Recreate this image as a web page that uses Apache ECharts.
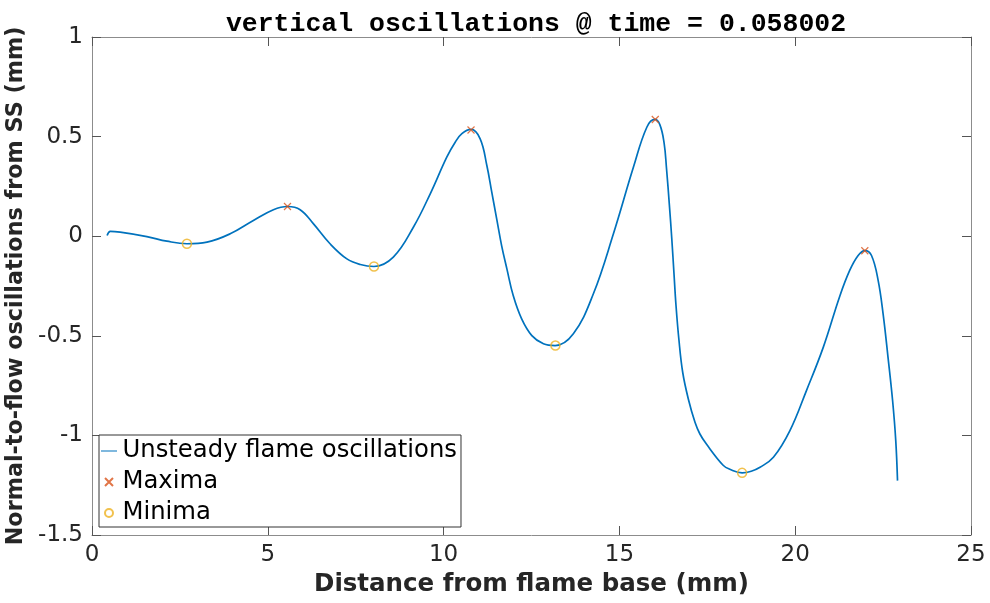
<!DOCTYPE html>
<html>
<head>
<meta charset="utf-8">
<script src="https://cdn.jsdelivr.net/npm/echarts@6/dist/echarts.min.js"></script>
<style>
  html, body { margin: 0; padding: 0; background: #fff; }
  #chart { width: 990px; height: 603px; }
</style>
</head>
<body>
<div id="chart"></div>
<script>
// curve
const curveX = [0.43, 0.52, 0.80, 1.56, 2.13, 2.70, 3.27, 3.93, 4.59, 5.16, 5.56, 5.92, 6.30, 6.77, 7.25, 7.63, 8.02,
  8.57, 9.14, 9.62, 10.09, 10.33, 10.52, 10.78, 11.04, 11.23, 11.37, 11.51, 11.65, 11.80, 11.98, 12.22, 12.51, 12.84, 13.17,
  13.69, 14.26, 14.83, 15.40, 15.78, 16.01, 16.15, 16.27, 16.34, 16.42, 16.49, 16.55, 16.61, 16.69, 16.80, 16.96,
  17.15, 17.29, 17.48, 17.95, 18.14, 18.49, 18.75, 19.00, 19.38, 19.85, 20.32, 20.80, 21.27, 21.55, 21.79, 21.98,
  22.17, 22.36, 22.50, 22.64, 22.77, 22.86, 22.91];
const curveY = [0.003, 0.024, 0.020, -0.002, -0.025, -0.038, -0.030, 0.012, 0.079, 0.133, 0.149, 0.133, 0.062, -0.038,
  -0.114, -0.142, -0.152, -0.105, 0.045, 0.213, 0.397, 0.472, 0.515, 0.536, 0.489, 0.355, 0.221, 0.087, -0.047,
  -0.164, -0.298, -0.415, -0.499, -0.540, -0.549, -0.490, -0.289, 0.012, 0.347, 0.547, 0.586, 0.560, 0.470, 0.340,
  0.160, -0.013, -0.181, -0.348, -0.515, -0.683, -0.817, -0.934, -0.993, -1.045, -1.150, -1.170, -1.188, -1.180,
  -1.160, -1.110, -0.976, -0.775, -0.557, -0.300, -0.172, -0.097, -0.072, -0.097, -0.223, -0.390, -0.608, -0.825,
  -1.026, -1.227];

const maxX = [5.56, 10.78, 16.02, 21.98];
const maxY = [0.149, 0.533, 0.586, -0.073];
const minX = [2.70, 8.02, 13.18, 18.49];
const minY = [-0.038, -0.152, -0.549, -1.188];

const xTicks = [0, 5, 10, 15, 20, 25];
const yTicks = [-1.5, -1, -0.5, 0, 0.5, 1];

const colors = { line: "#0072BD", max: "#D95319", min: "#EDB120" };
const crossPath = "path://M0,0L10,10M10,0L0,10";
// thin horizontal bar kept in a 20x10 box so the legend shows a plain line
const lineIcon = "path://M0,0L0,0ZM0,4.4L20,4.4L20,5.6L0,5.6ZM0,10L0,10Z";

const frame = { onZero: false, lineStyle: { color: "#8c8c8c", width: 1 } };
const tickIn = { show: true, inside: true, length: 9, lineStyle: { color: "#555" } };
const font = "DejaVu Sans";

const option = {
  animation: false,
  title: {
    text: "vertical oscillations @ time = 0.058002",
    left: 531,
    top: 6,
    textAlign: "center",
    textStyle: { fontFamily: "Liberation Mono", fontWeight: "bold", fontSize: 26.5, color: "#000" }
  },
  grid: { left: 92, right: 19, top: 37, bottom: 68, outerBoundsMode: "none" },
  legend: {
    orient: "vertical",
    left: 99,
    top: 435,
    padding: [4, 4, 2, 2],
    itemGap: 7,
    itemWidth: 17,
    itemHeight: 8,
    backgroundColor: "#fff",
    borderColor: "#333",
    borderWidth: 1,
    borderRadius: 0,
    textStyle: { fontFamily: font, fontSize: 24.3, lineHeight: 24, color: "#000" },
    data: [
      { name: "Unsteady flame oscillations", icon: lineIcon },
      "Maxima",
      "Minima"
    ]
  },
  xAxis: [
    {
      type: "value", min: 0, max: 25, interval: 5,
      axisLine: frame, axisTick: tickIn, splitLine: { show: false },
      axisLabel: { fontFamily: font, fontSize: 23, color: "#262626", margin: 9,
        formatter: (v) => xTicks.includes(v) ? String(v) : "" },
      name: "Distance from flame base (mm)",
      nameLocation: "middle",
      nameGap: 36,
      nameTextStyle: { fontFamily: font, fontWeight: "bold", fontSize: 24.5, color: "#262626" }
    },
    {
      type: "value", min: 0, max: 25, interval: 5, position: "top",
      axisLine: frame, axisTick: tickIn, axisLabel: { show: false }, splitLine: { show: false }
    }
  ],
  yAxis: [
    {
      type: "value", min: -1.5, max: 1, interval: 0.5,
      axisLine: frame, axisTick: tickIn, splitLine: { show: false },
      axisLabel: { fontFamily: font, fontSize: 23, color: "#262626", margin: 9,
        formatter: (v) => yTicks.includes(v) ? String(v) : "" },
      name: "Normal-to-flow oscillations from SS (mm)",
      nameLocation: "middle",
      nameGap: 56,
      nameTextStyle: { fontFamily: font, fontWeight: "bold", fontSize: 22.3, color: "#262626" }
    },
    {
      type: "value", min: -1.5, max: 1, interval: 0.5, position: "right",
      axisLine: frame, axisTick: tickIn, axisLabel: { show: false }, splitLine: { show: false }
    }
  ],
  series: [
    {
      name: "Unsteady flame oscillations",
      type: "line",
      smooth: 0.4,
      symbol: "none",
      lineStyle: { color: colors.line, width: 1.7 },
      itemStyle: { color: colors.line },
      data: curveX.map((x, i) => [x, curveY[i]]),
      z: 2
    },
    {
      name: "Maxima",
      type: "scatter",
      symbol: crossPath,
      symbolSize: 7,
      itemStyle: { color: "transparent", borderColor: colors.max, borderWidth: 1.2 },
      data: maxX.map((x, i) => [x, maxY[i]]),
      z: 3
    },
    {
      name: "Minima",
      type: "scatter",
      symbol: "circle",
      symbolSize: 9,
      itemStyle: { color: "transparent", borderColor: colors.min, borderWidth: 1.5 },
      data: minX.map((x, i) => [x, minY[i]]),
      z: 3
    }
  ]
};

const chart = echarts.init(document.getElementById("chart"));
chart.setOption(option);
</script>
</body>
</html>
